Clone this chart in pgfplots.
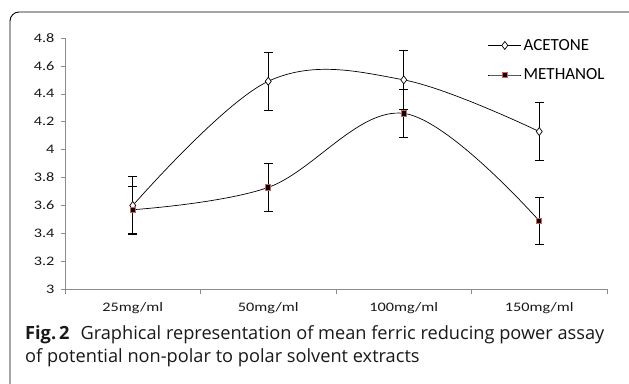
\documentclass[border=0pt]{standalone}
\usepackage{pgfplots}
\pgfplotsset{compat=1.18}
\usepackage{pgfplotstable}
\usepackage{graphicx}
\usepackage{fontspec}
\setmainfont{Carlito}
\newfontfamily\capfont{Open Sans}
\definecolor{axgray}{HTML}{8C8C8C}
\definecolor{mred}{HTML}{D0605E}

\pgfplotstableread{
x y err
0 3.60 0.21
1 4.49 0.21
2 4.50 0.21
3 4.13 0.21
}\acetone
\pgfplotstableread{
x y err
0 3.57 0.17
1 3.73 0.17
2 4.26 0.17
3 3.49 0.17
}\methanol

\begin{document}
\begin{tikzpicture}[x=1pt,y=1pt]
\useasboundingbox (0,0) rectangle (629,383);
\fill[white] (0,0) rectangle (629,383);
\draw[line width=0.9pt, rounded corners=9pt] (10,-10) rectangle (645,371);
\begin{axis}[
  at={(65pt,93.7pt)}, anchor=south west,
  width=542pt, height=251.3pt, scale only axis,
  xmin=-0.5, xmax=3.5, ymin=3, ymax=4.8,
  axis x line*=bottom, axis y line*=left,
  axis line style={axgray, line width=0.6pt},
  every tick/.style={axgray, line width=0.6pt},
  tick align=outside,
  xtick={0,1,2,3},
  xticklabels={{\scalebox{1.25}[1]{25mg/ml}},{\scalebox{1.25}[1]{50mg/ml}},{\scalebox{1.25}[1]{100mg/ml}},{\scalebox{1.25}[1]{150mg/ml}}},
  major x tick style={draw=none},
  minor xtick={-0.5,0.5,1.5,2.5,3.5},
  minor tick length=5pt,
  ytick={3,3.2,...,4.81},
  major tick length=4pt,
  /pgf/number format/assume math mode=true,
  yticklabel={\scalebox{1.25}[1]{\pgfmathprintnumber{\tick}}},
  tick label style={font=\fontsize{13}{13}\selectfont, text=black!90},
  xticklabel style={yshift=-6pt},
  yticklabel style={xshift=-3pt},
  legend style={draw=none, fill=none, at={(axis description cs:0.78,1.004)}, anchor=north west,
    font=\fontsize{17}{17}\selectfont, row sep=13pt, inner sep=0pt,
    nodes={inner sep=2pt}},
  legend cell align=left,
  legend image code/.code={\draw[mark repeat=2,mark phase=2] plot coordinates {(0pt,0pt)(16.5pt,0pt)(33pt,0pt)};},
  clip=false,
]
\addplot[black, line width=0.7pt, smooth, tension=0.6,
  mark=diamond*, mark size=4pt, mark options={solid, fill=white, draw=black, line width=0.7pt},
  error bars/.cd, y dir=both, y explicit,
  error bar style={black, line width=0.8pt},
  error mark options={rotate=90, mark size=4.5pt, black, line width=0.8pt}]
  table[x=x, y=y, y error=err] {\acetone};
\addlegendentry{ACETONE}
\addplot[black, line width=0.7pt, smooth, tension=0.6,
  mark=square*, mark size=2.6pt, mark options={solid, fill=black, draw=mred, line width=0.9pt},
  error bars/.cd, y dir=both, y explicit,
  error bar style={black, line width=0.8pt},
  error mark options={rotate=90, mark size=4.5pt, black, line width=0.8pt}]
  table[x=x, y=y, y error=err] {\methanol};
\addlegendentry{METHANOL}
\end{axis}
\node[anchor=base west, inner sep=0pt, font=\capfont\fontsize{18.2}{18.2}\selectfont, text=black!90] at (25,44)
  {\textbf{Fig.\,2}\hspace{0.6em}Graphical representation of mean ferric reducing power assay};
\node[anchor=base west, inner sep=0pt, font=\capfont\fontsize{18.2}{18.2}\selectfont, text=black!90] at (25,20.3)
  {of potential non-polar to polar solvent extracts};
\end{tikzpicture}
\end{document}
